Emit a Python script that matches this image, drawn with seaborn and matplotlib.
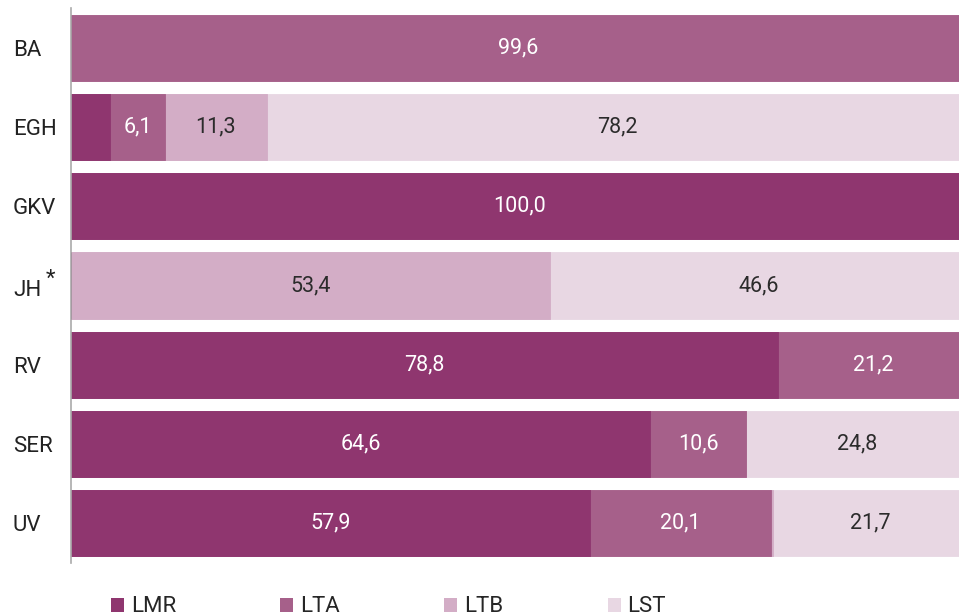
import numpy as np
import pandas as pd
import matplotlib
matplotlib.use("Agg")
import matplotlib.pyplot as plt
from matplotlib.patches import Patch
import seaborn as sns

sns.set_theme(style="white")
plt.rcParams['font.family'] = ['Roboto', 'DejaVu Sans']

# Daten (Anteile in %)
kategorien = ["BA", "EGH", "GKV", "JH", "RV", "SER", "UV"]
serien = ["LMR", "LTA", "LTB", "LST"]
lmr = [0.0, 4.4, 100.0, 0.0, 78.8, 64.6, 57.9]
lta = [99.6, 6.1, 0.0, 0.0, 21.2, 10.6, 20.1]
ltb = [0.0, 11.3, 0.0, 53.4, 0.0, 0.0, 0.3]
lst = [0.4, 78.2, 0.0, 46.6, 0.0, 24.8, 21.7]

farben = ["#8f366f", "#a6608a", "#d3adc6", "#e8d7e3"]
textfarben = ["white", "white", "#2b2b2b", "#2b2b2b"]

werte = np.array([lmr, lta, ltb, lst])
kumuliert = werte.cumsum(axis=0)

fig = plt.figure(figsize=(9.59, 6.16), dpi=100)
ax = fig.add_axes([71 / 959, 1 - 563 / 616, 897 / 959, 555 / 616])

# gestapelte Balken: von der groessten Summe zur kleinsten ueberzeichnen
for i in range(len(serien) - 1, -1, -1):
    df = pd.DataFrame({"kat": kategorien, "wert": kumuliert[i]})
    sns.barplot(data=df, y="kat", x="wert", orient="h", color=farben[i],
                saturation=1, width=0.835, ax=ax, order=kategorien,
                linewidth=0.6, edgecolor=farben[i])

# Werte beschriften
for i in range(len(serien)):
    for j, kat in enumerate(kategorien):
        v = werte[i, j]
        if v < 5:
            continue
        mitte = kumuliert[i, j] - v / 2
        ax.text(mitte, j, f"{v:.1f}".replace(".", ","), ha="center", va="center",
                fontsize=15.5, color=textfarben[i])

ax.set_xlim(0, 100)
ax.set_ylim(6.5, -0.5)
ax.set_xlabel("")
ax.set_ylabel("")
ax.set_xticks([])
ax.set_yticks(range(len(kategorien)))
ax.set_yticklabels([k if k != "JH" else "" for k in kategorien])
ax.tick_params(axis="y", length=0, pad=42, labelsize=16, labelcolor="#222222")
for lab in ax.get_yticklabels():
    lab.set_ha("left")
for s in ["top", "right", "bottom"]:
    ax.spines[s].set_visible(False)
ax.spines["left"].set_color("#aaaaaa")
ax.spines["left"].set_linewidth(1.2)

# JH mit hochgestelltem Sternchen
j_jh = kategorien.index("JH")
ax.annotate("JH", xy=(0, j_jh), xycoords=("axes fraction", "data"),
            xytext=(-58, -5), textcoords="offset pixels", fontsize=16,
            color="#222222", ha="left", va="center")
ax.annotate("*", xy=(0, j_jh), xycoords=("axes fraction", "data"),
            xytext=(-21, 6), textcoords="offset pixels", fontsize=16,
            color="#222222", ha="center", va="center")

handles = [Patch(facecolor=c, edgecolor="none") for c in farben]
fig.legend(handles, serien, loc="center left", bbox_to_anchor=(111 / 959, 1 - 607 / 616),
           ncol=4, frameon=False, fontsize=16, handlelength=0.58, handleheight=0.58,
           handletextpad=0.31, columnspacing=4.7, borderaxespad=0, borderpad=0)

fig.savefig("out.png", dpi=100)
